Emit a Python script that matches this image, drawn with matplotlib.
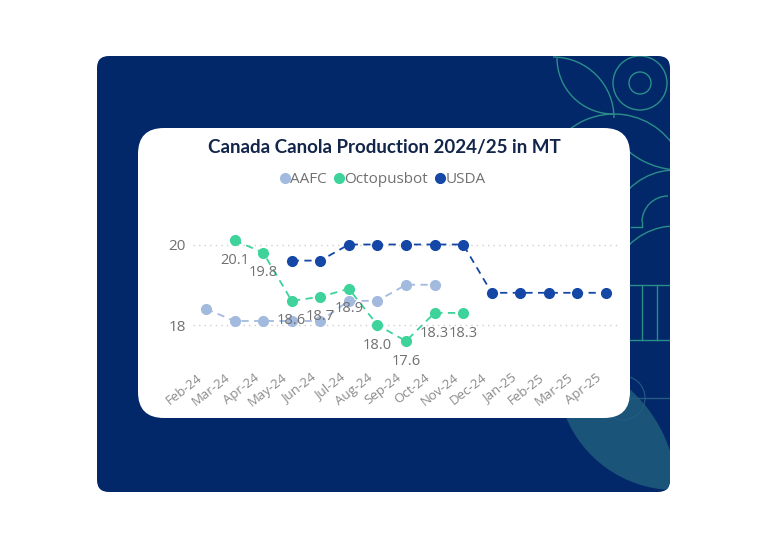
import numpy as np
import matplotlib
matplotlib.use("Agg")
import matplotlib.pyplot as plt
import matplotlib.transforms as mtransforms
from matplotlib.patches import FancyBboxPatch, Circle, Arc, Polygon
from matplotlib.lines import Line2D

months = ["Feb-24", "Mar-24", "Apr-24", "May-24", "Jun-24", "Jul-24", "Aug-24",
          "Sep-24", "Oct-24", "Nov-24", "Dec-24", "Jan-25", "Feb-25", "Mar-25", "Apr-25"]
aafc = [18.4, 18.1, 18.1, 18.1, 18.1, 18.6, 18.6, 19.0, 19.0,
        None, None, None, None, None, None]
octopusbot = [None, 20.1, 19.8, 18.6, 18.7, 18.9, 18.0, 17.6, 18.3, 18.3,
              None, None, None, None, None]
usda = [None, None, None, 19.6, 19.6, 20.0, 20.0, 20.0, 20.0, 20.0,
        18.8, 18.8, 18.8, 18.8, 18.8]
yticks = [18, 20]

W, H = 768, 548
fig = plt.figure(figsize=(W / 100, H / 100), dpi=100)
fig.patch.set_facecolor("white")

# ---- decorative background (pixel coordinates, y downward) ----
bg = fig.add_axes([0, 0, 1, 1])
bg.set_xlim(0, W)
bg.set_ylim(H, 0)
bg.axis("off")
navy = "#03286A"
bg.add_patch(FancyBboxPatch((97, 56), 573, 436, boxstyle="round,pad=0,rounding_size=12",
                            fc=navy, ec="none"))
clipbox = FancyBboxPatch((97, 56), 573, 436, boxstyle="round,pad=0,rounding_size=12",
                         fc="none", ec="none")
bg.add_patch(clipbox)

# leaf: lens = intersection of two discs
cL, rL = np.array([675.0, 372.0]), 118.0
cR, rR = np.array([535.0, 495.0]), 142.0
t = np.linspace(0, 2 * np.pi, 720, endpoint=False)
pL = cL + rL * np.c_[np.cos(t), np.sin(t)]
pR = cR + rR * np.c_[np.cos(t), np.sin(t)]
pts = np.vstack([pL[np.linalg.norm(pL - cR, axis=1) <= rR],
                 pR[np.linalg.norm(pR - cL, axis=1) <= rL]])
cen = pts.mean(axis=0)
pts = pts[np.argsort(np.arctan2(pts[:, 1] - cen[1], pts[:, 0] - cen[0]))]
leaf = Polygon(pts, closed=True, fc="#1B5479", ec="none")
bg.add_patch(leaf)
leaf.set_clip_path(clipbox)

teal = "#2A8E89"
faint = "#235B82"
decos = [
    Circle((640, 83), 11, fc="none", ec=teal, lw=1),
    Circle((640, 83), 27, fc="none", ec=teal, lw=1),
    Arc((614, 186), 144, 144, theta1=215, theta2=340, ec=teal, lw=1),
    Arc((613, 58), 112, 112, theta1=90, theta2=180, ec=teal, lw=1),
    Arc((553, 118), 122, 122, theta1=270, theta2=360, ec=teal, lw=1),
    Arc((680, 90), 160, 160, theta1=95, theta2=140, ec=teal, lw=1),
    Arc((675, 235), 130, 130, theta1=225, theta2=290, ec=teal, lw=1),
    Arc((668, 222), 52, 52, theta1=180, theta2=270, ec=teal, lw=1),
    Arc((675, 291), 130, 130, theta1=225, theta2=290, ec=teal, lw=1),
    Circle((623, 398), 22, fc="none", ec=faint, lw=0.8),
]
for d in decos:
    bg.add_patch(d)
    d.set_clip_path(clipbox)
segs = [((642, 642), (285, 340), teal), ((657, 657), (285, 340), teal),
        ((630, 670), (285, 285), teal), ((630, 670), (340, 340), teal),
        ((642, 642), (222, 227), teal), ((631, 642), (227, 227), teal),
        ((630, 670), (398, 398), faint)]
for xs, ys, c in segs:
    ln = Line2D(xs, ys, color=c, lw=1)
    bg.add_line(ln)
    ln.set_clip_path(clipbox)

# white card
bg.add_patch(FancyBboxPatch((138, 128), 492, 290, boxstyle="round,pad=0,rounding_size=26",
                            fc="white", ec="none"))

bg.text(384.5, 147, "Canada Canola Production 2024/25 in MT", ha="center", va="center",
        fontsize=13.5, fontweight="bold", color="#13254A", family="Lato")

# ---- chart ----
px_x0, px_x1 = 193, 618
px_y0, px_y1 = 225, 355
ax = fig.add_axes([px_x0 / W, 1 - px_y1 / H, (px_x1 - px_x0) / W, (px_y1 - px_y0) / H])
ax.patch.set_alpha(0)
ux = (606 - 206) / 14
ax.set_xlim(-(206 - px_x0) / ux, 14 + (px_x1 - 606) / ux)
uy = (325 - 244.5) / 2
ax.set_ylim(18 - (px_y1 - 325) / uy, 20 + (244.5 - px_y0) / uy)

x = np.arange(len(months))
def arr(v):
    return np.array([np.nan if a is None else a for a in v], dtype=float)

colors = {"AAFC": "#A3BADF", "Octopusbot": "#3DD39A", "USDA": "#1447A6"}
for name, vals in (("AAFC", aafc), ("Octopusbot", octopusbot), ("USDA", usda)):
    ax.plot(x, arr(vals), color=colors[name], ls=(0, (4, 3)), lw=1.3, marker="o",
            ms=7, mec=colors[name], label=name, zorder=3, clip_on=False)

for xi, v in zip(x, octopusbot):
    if v is not None:
        ax.annotate(f"{v:.1f}", (xi, v), xytext=(0, -14.5), textcoords="offset points",
                    ha="center", va="center", fontsize=10.5, color="#707070",
                    family="Open Sans", zorder=4)

ax.set_yticks(yticks)
ax.set_yticklabels([str(t) for t in yticks], family="Open Sans", fontsize=11, color="#707070")
ax.set_xticks(x)
ax.set_xticklabels([""] * len(months))
lab_tr = ax.get_xaxis_transform() + mtransforms.ScaledTranslation(-10 / 100, -16 / 100,
                                                                   fig.dpi_scale_trans)
for xi, m in zip(x, months):
    ax.text(xi, 0, m, transform=lab_tr, rotation=38, ha="right", va="top",
            rotation_mode="anchor", family="Open Sans", fontsize=9.5, color="#8A8A8A",
            clip_on=False)
ax.tick_params(axis="both", length=0)
ax.tick_params(axis="y", pad=5)
ax.grid(axis="y", color="#CFCFCF", ls=(0, (1, 3)), lw=1)
ax.grid(axis="x", visible=False)
for s in ax.spines.values():
    s.set_visible(False)

handles = [Line2D([], [], ls="none", marker="o", ms=7, color=colors[n]) for n in colors]
fig.legend(handles, list(colors.keys()), loc="center", bbox_to_anchor=(382 / W, 1 - 180 / H),
           ncol=3, frameon=False, handletextpad=-0.1, columnspacing=0.35,
           prop={"family": "Open Sans", "size": 11}, labelcolor="#707070", handlelength=0.9)

fig.savefig("out.png", dpi=100)
